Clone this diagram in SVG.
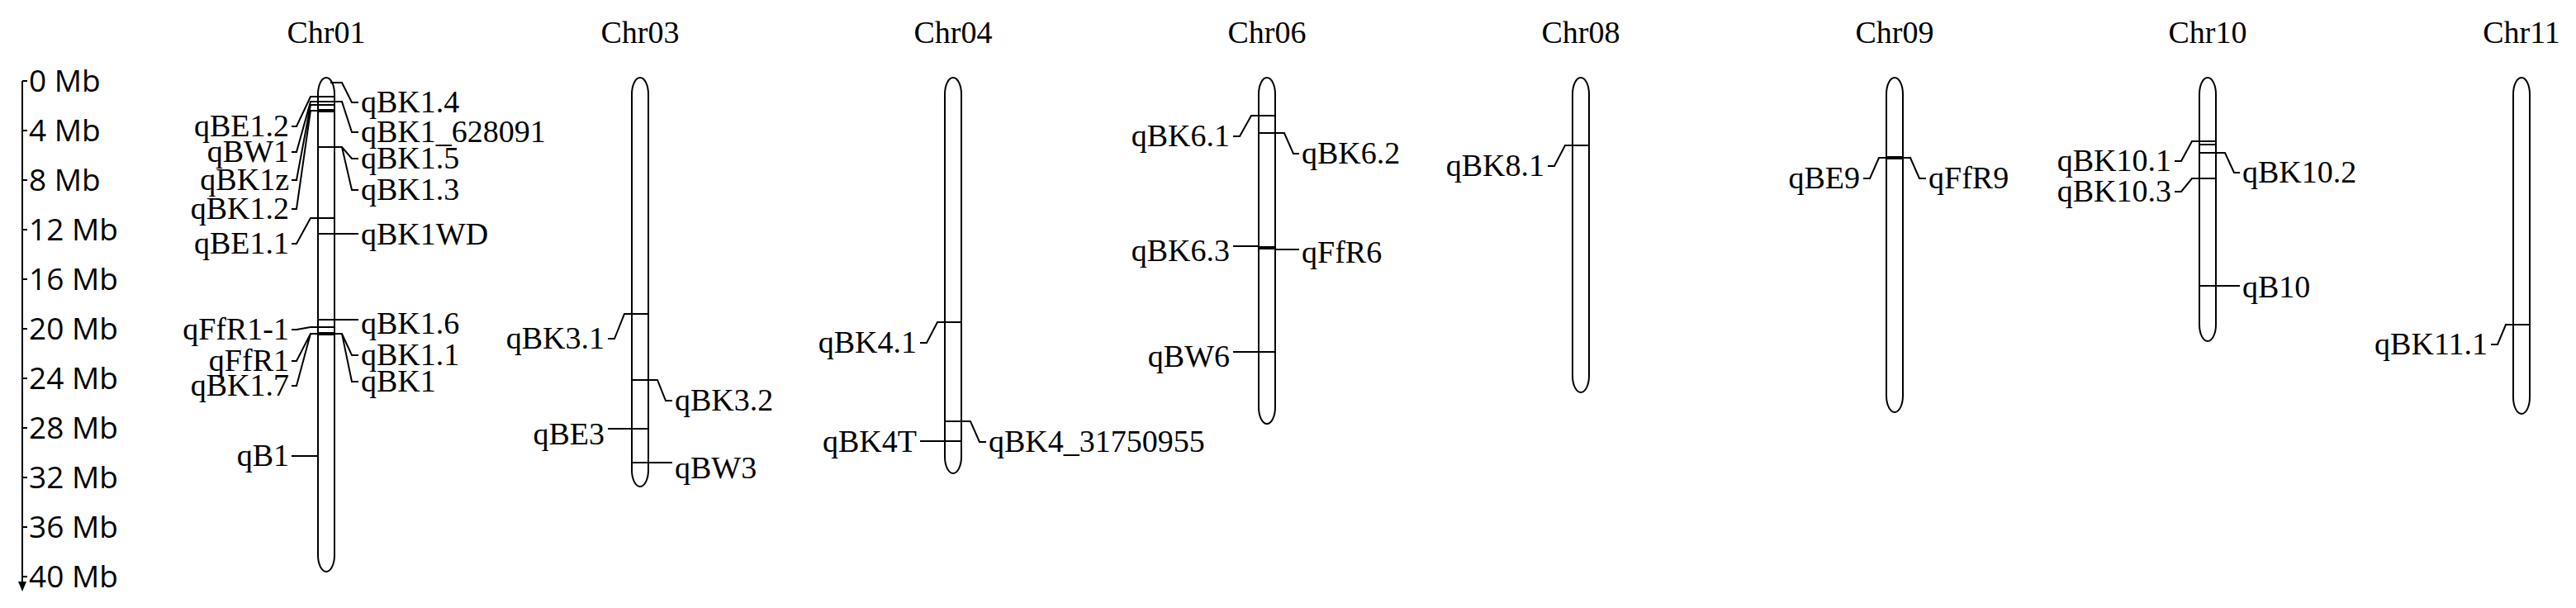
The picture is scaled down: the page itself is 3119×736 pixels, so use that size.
<svg xmlns="http://www.w3.org/2000/svg" width="3119" height="736" viewBox="0 0 3119 736">
<style>
.t{font-family:"Liberation Serif","Times New Roman",serif;font-size:38px;fill:#000}
.ax{font-family:"Open Sans","Liberation Sans",Arial,sans-serif;font-size:37px;fill:#000}
.l{text-anchor:end}
.c{text-anchor:middle}
.ch{fill:#fff;stroke:#000;stroke-width:2}
.m{stroke:#000;stroke-width:2;fill:none}
.k{stroke:#000;stroke-width:4}
</style>
<rect width="3119" height="736" fill="#fff"/>
<g id="axis">
<path class="m" d="M27 98V705M27 98h6M27 158h6M27 218h6M27 278h6M27 338h6M27 398h6M27 458h6M27 518h6M27 578h6M27 638h6M27 698h6"/>
<path d="M22 704L27 716L32 704Z" fill="#000"/>
<text class="ax" x="35" y="111">0 Mb</text><text class="ax" x="35" y="171">4 Mb</text><text class="ax" x="35" y="231">8 Mb</text>
<text class="ax" x="35" y="291">12 Mb</text><text class="ax" x="35" y="351">16 Mb</text><text class="ax" x="35" y="411">20 Mb</text>
<text class="ax" x="35" y="471">24 Mb</text><text class="ax" x="35" y="531">28 Mb</text><text class="ax" x="35" y="591">32 Mb</text>
<text class="ax" x="35" y="651">36 Mb</text><text class="ax" x="35" y="711">40 Mb</text>
</g>
<g id="chr01">
<text class="t c" x="395" y="52">Chr01</text>
<rect class="ch" x="385" y="94" width="20" height="598" rx="10" ry="20"/>
<path class="m" d="M385 117H405M385 123H405M385 127H405M385 178H405M385 264H405M385 283H405M385 387H405M385 396H405"/>
<path class="k" d="M385 134H405M385 404H405"/>
<text class="t l" x="350" y="165">qBE1.2</text><text class="t l" x="350" y="196">qBW1</text><text class="t l" x="350" y="230">qBK1z</text>
<text class="t l" x="350" y="265">qBK1.2</text><text class="t l" x="350" y="307">qBE1.1</text><text class="t l" x="350" y="411">qFfR1-1</text>
<text class="t l" x="350" y="449">qFfR1</text><text class="t l" x="350" y="479">qBK1.7</text><text class="t l" x="350" y="564">qB1</text>
<text class="t" x="437" y="136">qBK1.4</text><text class="t" x="437" y="172">qBK1_628091</text><text class="t" x="437" y="204">qBK1.5</text>
<text class="t" x="437" y="242">qBK1.3</text><text class="t" x="437" y="296">qBK1WD</text><text class="t" x="437" y="404">qBK1.6</text>
<text class="t" x="437" y="442">qBK1.1</text><text class="t" x="437" y="474">qBK1</text>
</g>
<g id="chr03">
<text class="t c" x="775" y="52">Chr03</text>
<rect class="ch" x="765" y="94" width="20" height="495" rx="10" ry="20"/>
<path class="m" d="M765 380H785M765 460H785M765 519H785M765 560H785"/>
<text class="t l" x="732" y="422">qBK3.1</text><text class="t" x="817" y="497">qBK3.2</text>
<text class="t l" x="732" y="538">qBE3</text><text class="t" x="817" y="579">qBW3</text>
</g>
<g id="chr04">
<text class="t c" x="1154" y="52">Chr04</text>
<rect class="ch" x="1144" y="94" width="20" height="479" rx="10" ry="20"/>
<path class="m" d="M1144 390H1164M1144 510H1164M1144 534H1164"/>
<text class="t l" x="1110" y="427">qBK4.1</text><text class="t" x="1197" y="547">qBK4_31750955</text><text class="t l" x="1110" y="547">qBK4T</text>
</g>
<g id="chr06">
<text class="t c" x="1534" y="52">Chr06</text>
<rect class="ch" x="1524" y="94" width="20" height="419" rx="10" ry="20"/>
<path class="m" d="M1524 140H1544M1524 161H1544M1524 426H1544"/>
<path class="k" d="M1524 300H1544"/>
<text class="t l" x="1489" y="177">qBK6.1</text><text class="t" x="1576" y="198">qBK6.2</text>
<text class="t l" x="1489" y="316">qBK6.3</text><text class="t" x="1576" y="318">qFfR6</text><text class="t l" x="1489" y="444">qBW6</text>
</g>
<g id="chr08">
<text class="t c" x="1914" y="52">Chr08</text>
<rect class="ch" x="1904" y="94" width="20" height="381" rx="10" ry="20"/>
<path class="m" d="M1904 176H1924"/>
<text class="t l" x="1870" y="213">qBK8.1</text>
</g>
<g id="chr09">
<text class="t c" x="2294" y="52">Chr09</text>
<rect class="ch" x="2284" y="94" width="20" height="405" rx="10" ry="20"/>
<path class="k" d="M2284 191H2304"/>
<text class="t l" x="2252" y="228">qBE9</text><text class="t" x="2335" y="228">qFfR9</text>
</g>
<g id="chr10">
<text class="t c" x="2673" y="52">Chr10</text>
<rect class="ch" x="2663" y="94" width="20" height="319" rx="10" ry="20"/>
<path class="m" d="M2663 171H2683M2663 175H2683M2663 185H2683M2663 216H2683M2663 346H2683"/>
<text class="t l" x="2629" y="207">qBK10.1</text><text class="t" x="2715" y="221">qBK10.2</text>
<text class="t l" x="2629" y="244">qBK10.3</text><text class="t" x="2715" y="360">qB10</text>
</g>
<g id="chr11">
<text class="t c" x="3053" y="52">Chr11</text>
<rect class="ch" x="3043" y="94" width="20" height="407" rx="10" ry="20"/>
<path class="m" d="M3043 393H3063"/>
<text class="t l" x="3012" y="429">qBK11.1</text>
</g>
<g id="connectors" class="m">
<path d="M385 117H376L359 153H353M385 123H376L359 184H353M385 127H376L359 218H353M385 134H376L359 253H353M385 264H376L359 295H353M385 396H376L359 399H353M385 404H376L359 437H353M385 404H376L359 467H353M385 552H353"/>
<path d="M400 100H414L426 124H434M405 123H414L426 160H434M405 178H414L426 192H434M405 178H414L426 230H434M405 283H434M405 387H434M405 404H414L426 430H434M405 404H414L426 462H434"/>
<path d="M765 380H756L744 410H736M785 460H796L806 485H814M765 519H736M785 560H814"/>
<path d="M1144 390H1135L1122 415H1114M1164 510H1175L1186 535H1194M1144 534H1114"/>
<path d="M1524 140H1515L1501 165H1493M1544 161H1555L1566 186H1573M1524 298H1493M1544 302H1573M1524 426H1493"/>
<path d="M1904 176H1895L1882 201H1874"/>
<path d="M2284 191H2275L2264 216H2256M2304 191H2313L2324 216H2332"/>
<path d="M2663 171H2654L2641 195H2633M2683 185H2694L2705 209H2712M2663 216H2654L2641 232H2633M2683 346H2712"/>
<path d="M3043 393H3034L3024 417H3016"/>
</g>
</svg>
